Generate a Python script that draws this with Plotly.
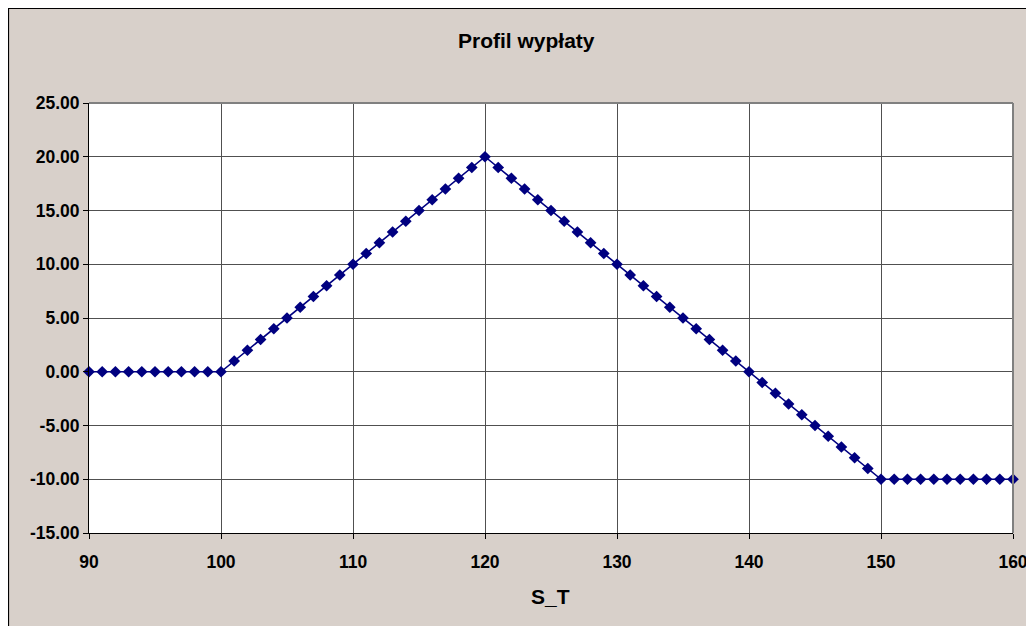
import plotly.graph_objects as go

s_t = [90, 91, 92, 93, 94, 95, 96, 97, 98, 99, 100,
       101, 102, 103, 104, 105, 106, 107, 108, 109, 110,
       111, 112, 113, 114, 115, 116, 117, 118, 119, 120,
       121, 122, 123, 124, 125, 126, 127, 128, 129, 130,
       131, 132, 133, 134, 135, 136, 137, 138, 139, 140,
       141, 142, 143, 144, 145, 146, 147, 148, 149, 150,
       151, 152, 153, 154, 155, 156, 157, 158, 159, 160]
payoff = [0, 0, 0, 0, 0, 0, 0, 0, 0, 0, 0,
          1, 2, 3, 4, 5, 6, 7, 8, 9, 10,
          11, 12, 13, 14, 15, 16, 17, 18, 19, 20,
          19, 18, 17, 16, 15, 14, 13, 12, 11, 10,
          9, 8, 7, 6, 5, 4, 3, 2, 1, 0,
          -1, -2, -3, -4, -5, -6, -7, -8, -9, -10,
          -10, -10, -10, -10, -10, -10, -10, -10, -10, -10]
y_ticks = [-15, -10, -5, 0, 5, 10, 15, 20, 25]
y_tick_labels = ["-15.00", "-10.00", "-5.00", "0.00", "5.00",
                 "10.00", "15.00", "20.00", "25.00"]

title_text = "Profil wypłaty"
x_title = "S_T"

W, H = 1026, 618
L, R, T, B = 81, 21, 95, 93
pw, ph = W - L - R, H - T - B

def px_x(p):
    return (p - L) / pw

def px_y(p):
    return (H - B - p) / ph

BG = "#d8d0ca"
GRID = "#505050"
font = "Liberation Sans, Arial, sans-serif"

fig = go.Figure()
fig.add_trace(go.Scatter(
    x=s_t, y=payoff, mode="lines+markers",
    line=dict(color="#000080", width=1.6),
    marker=dict(symbol="diamond", size=9, color="#000080"),
    cliponaxis=False, showlegend=False,
))

fig.update_layout(
    width=W, height=H, autosize=False,
    margin=dict(l=L, r=R, t=T, b=B, autoexpand=False),
    paper_bgcolor=BG, plot_bgcolor="white",
    font=dict(family=font, size=17.5, color="black"),
    xaxis=dict(range=[90, 160], dtick=10, tick0=90, showgrid=True, automargin=False,
               gridcolor=GRID, gridwidth=1, zeroline=False,
               showline=True, linecolor="black", linewidth=1,
               ticks="outside", ticklen=5, tickcolor="black", ticklabeloverflow="allow",
               ticklabelstandoff=8,
               tickfont=dict(size=17.5, family=font), tickprefix="<b>", ticksuffix="</b>"),
    yaxis=dict(range=[-15, 25], tickmode="array", tickvals=y_ticks,
               ticktext=["<b>" + t + "</b>" for t in y_tick_labels],
               showgrid=True, automargin=False, ticklabeloverflow="allow",
               gridcolor=GRID, gridwidth=1, zeroline=False,
               showline=True, linecolor="black", linewidth=1,
               ticks="outside", ticklen=5, tickcolor="black",
               tickfont=dict(size=17.5, family=font)),
    shapes=[
        dict(type="line", xref="paper", yref="paper", x0=0, x1=1, y0=1, y1=1,
             line=dict(color="#808080", width=2)),
        dict(type="line", xref="paper", yref="paper", x0=1, x1=1, y0=0, y1=1,
             line=dict(color="#808080", width=2)),
        dict(type="line", xref="paper", yref="paper", x0=px_x(0.5), x1=px_x(0.5),
             y0=px_y(H + 5), y1=px_y(0), line=dict(color="black", width=1.2)),
        dict(type="line", xref="paper", yref="paper", x0=px_x(0), x1=px_x(W + 5),
             y0=px_y(0.5), y1=px_y(0.5), line=dict(color="black", width=1.2)),
    ],
    annotations=[
        dict(text="<b>" + title_text + "</b>", xref="paper", yref="paper",
             x=px_x(518.5), y=px_y(32), xanchor="center", yanchor="middle",
             showarrow=False, font=dict(size=21, family=font)),
        dict(text="<b>" + x_title + "</b>", xref="paper", yref="paper",
             x=px_x(542), y=px_y(588), xanchor="center", yanchor="middle",
             showarrow=False, font=dict(size=21, family=font)),
    ],
)

fig.write_html("out.html")
